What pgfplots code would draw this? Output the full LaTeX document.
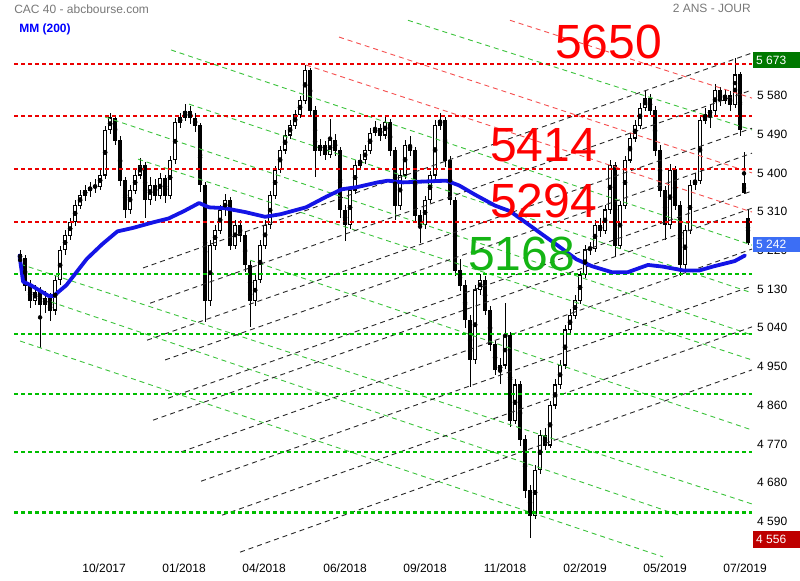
\documentclass[border=0pt]{standalone}
\usepackage{fontspec}
\setmainfont{Liberation Sans}
\usepackage{pgfplots}
\usepackage{pgfplotstable}
\pgfplotsset{compat=1.18}

\definecolor{hred}{RGB}{235,0,0}
\definecolor{hgreen}{RGB}{0,190,0}
\definecolor{dgreen}{RGB}{60,195,60}
\definecolor{dred}{RGB}{245,80,80}
\definecolor{dblack}{RGB}{40,40,40}
\definecolor{mablue}{RGB}{20,20,230}
\definecolor{titlegray}{RGB}{120,120,120}
\definecolor{boxgreen}{RGB}{0,120,0}
\definecolor{boxblue}{RGB}{60,110,245}
\definecolor{boxred}{RGB}{190,0,0}
\definecolor{bigred}{RGB}{255,0,0}
\definecolor{biggreen}{RGB}{20,180,20}

\pgfplotstableread{
x o h l c
20 5215 5225 5180 5207
25 5207 5215 5130 5144
30 5144 5155 5090 5109
35 5109 5145 5098 5128
40 5128 5140 4998 5098
45 5098 5130 5080 5114
50 5114 5125 5060 5086
55 5086 5165 5075 5156
60 5156 5235 5145 5226
65 5226 5272 5215 5260
70 5260 5300 5250 5291
75 5291 5342 5282 5330
80 5330 5365 5322 5353
85 5353 5378 5340 5365
90 5365 5385 5350 5372
95 5372 5390 5358 5374
100 5374 5412 5365 5400
105 5400 5515 5392 5505
110 5505 5545 5495 5533
115 5533 5540 5470 5481
120 5481 5490 5375 5388
125 5388 5395 5300 5319
130 5319 5378 5310 5365
135 5365 5412 5355 5400
140 5400 5440 5392 5423
145 5423 5430 5300 5342
150 5342 5395 5330 5377
155 5377 5392 5340 5353
160 5353 5405 5345 5393
165 5393 5400 5335 5353
170 5353 5445 5345 5435
175 5435 5532 5425 5523
180 5523 5545 5510 5533
185 5533 5565 5525 5547
190 5547 5560 5520 5533
195 5533 5545 5500 5516
200 5516 5522 5360 5377
205 5377 5385 5058 5109
210 5109 5250 5095 5237
215 5237 5285 5225 5272
220 5272 5330 5262 5319
225 5319 5355 5305 5342
230 5342 5348 5225 5237
235 5237 5295 5228 5284
240 5284 5295 5245 5260
245 5260 5270 5175 5191
250 5191 5200 5046 5109
255 5109 5170 5095 5156
260 5156 5248 5148 5237
265 5237 5295 5228 5284
270 5284 5362 5275 5353
275 5353 5422 5345 5412
280 5412 5468 5405 5458
285 5458 5505 5450 5493
290 5493 5528 5485 5516
295 5516 5552 5508 5540
300 5540 5585 5532 5574
305 5574 5657 5565 5644
310 5644 5650 5540 5551
315 5551 5560 5395 5458
320 5458 5485 5445 5470
325 5470 5480 5435 5447
330 5447 5530 5440 5481
335 5481 5495 5445 5458
340 5458 5465 5300 5319
345 5319 5330 5247 5284
350 5284 5375 5275 5365
355 5365 5435 5355 5423
360 5423 5450 5412 5435
365 5435 5470 5425 5458
370 5458 5510 5450 5498
375 5498 5525 5490 5509
380 5509 5520 5480 5493
385 5493 5535 5485 5523
390 5523 5530 5445 5458
395 5458 5465 5295 5330
400 5330 5412 5320 5400
405 5400 5482 5392 5470
410 5470 5490 5445 5458
415 5458 5465 5290 5307
420 5307 5318 5242 5284
425 5284 5352 5275 5342
430 5342 5410 5335 5400
435 5400 5528 5392 5516
440 5516 5544 5505 5528
445 5528 5535 5420 5435
450 5435 5445 5330 5342
455 5342 5350 5165 5179
460 5179 5205 5130 5144
465 5144 5155 5045 5063
470 5063 5075 4907 4970
475 4970 5145 4960 5133
480 5133 5170 5120 5156
485 5156 5165 5075 5086
490 5086 5095 4990 5005
495 5005 5015 4935 4947
500 4947 4975 4915 4958
505 4958 5102 4950 5028
510 5028 5035 4815 4830
515 4830 4925 4820 4912
520 4912 4920 4770 4784
525 4784 4795 4650 4667
530 4667 4680 4556 4609
535 4609 4725 4600 4714
540 4714 4808 4705 4795
545 4795 4812 4760 4772
550 4772 4875 4765 4865
555 4865 4925 4855 4912
560 4912 4970 4902 4958
565 4958 5052 4950 5040
570 5040 5088 5030 5074
575 5074 5120 5065 5109
580 5109 5178 5100 5168
585 5168 5238 5160 5226
590 5226 5245 5215 5230
595 5230 5295 5222 5284
600 5284 5300 5255 5270
605 5270 5330 5262 5319
610 5319 5435 5310 5423
615 5423 5430 5209 5237
620 5237 5340 5228 5330
625 5330 5445 5322 5435
630 5435 5498 5428 5486
635 5486 5528 5478 5516
640 5516 5568 5508 5556
645 5556 5597 5548 5579
650 5579 5588 5540 5551
655 5551 5560 5445 5458
660 5458 5470 5350 5365
665 5365 5375 5249 5284
670 5284 5425 5275 5412
675 5412 5420 5318 5330
680 5330 5340 5165 5191
685 5191 5285 5182 5272
690 5272 5388 5262 5377
695 5377 5405 5365 5388
700 5388 5540 5380 5528
705 5528 5555 5518 5540
710 5540 5565 5510 5551
715 5551 5612 5540 5598
720 5598 5605 5560 5574
725 5574 5600 5565 5586
730 5586 5595 5550 5563
735 5563 5673 5555 5633
740 5633 5640 5490 5505
744 5380 5453 5355 5360
748 5300 5319 5237 5242
}\candles

\begin{document}
\begin{tikzpicture}[x=1bp,y=1bp]
\begin{axis}[
  name=ax,
  width=752bp, height=558bp, scale only axis,
  xmin=0, xmax=752, ymin=4509.3, ymax=5807,
  axis line style={draw=none}, major tick length=0pt,
  xtick={104,184,264,345,425,505,585,665,745},
  xticklabels={10/2017,01/2018,04/2018,06/2018,09/2018,11/2018,02/2019,05/2019,07/2019},
  ytick={4590,4680,...,5580},
  yticklabels={4 590,4 680,4 770,4 860,4 950,5 040,5 130,5 220,5 310,5 400,5 490,5 580},
  yticklabel pos=right,
  yticklabel style={anchor=west, inner sep=0pt, xshift=5bp, yshift=2bp},
  xticklabel style={anchor=north, inner sep=0pt, yshift=-6bp},
  tick label style={font=\fontsize{12bp}{14bp}\selectfont, text=black},
]
% candles: wicks
\addplot[only marks, mark=none, error bars/.cd, y dir=both, y explicit, error mark=none,
  error bar style={black, line width=0.8bp}]
  table[x=x, y expr={(\thisrow{h}+\thisrow{l})/2}, y error expr={(\thisrow{h}-\thisrow{l})/2}] {\candles};
% candles: bodies
\addplot[only marks, mark=none, error bars/.cd, y dir=both, y explicit, error mark=none,
  error bar style={black, line width=3.2bp}]
  table[x=x, y expr={(\thisrow{o}+\thisrow{c})/2}, y error expr={abs(\thisrow{c}-\thisrow{o})/2+1}] {\candles};
% hollow up candles
\addplot[only marks, mark=none, restrict expr to domain={\thisrow{c}-\thisrow{o}}{5:100000},
  error bars/.cd, y dir=both, y explicit, error mark=none,
  error bar style={white, line width=1.5bp}]
  table[x=x, y expr={(\thisrow{o}+\thisrow{c})/2}, y error expr={(\thisrow{c}-\thisrow{o})/2-1.5}] {\candles};

% diagonal green
\pgfplotsset{dg/.style={dgreen, line width=0.9bp, dash pattern=on 5bp off 4bp}}
\addplot[dg] coordinates {(408,5760) (752,5505)};
\addplot[dg] coordinates {(171,5691) (752,5237)};
\addplot[dg] coordinates {(189,5565) (752,5126)};
\addplot[dg] coordinates {(105,5535) (752,5028)};
\addplot[dg] coordinates {(138,5437) (752,4970)};
\addplot[dg] coordinates {(20,5193) (752,4635)};
\addplot[dg] coordinates {(20,5014) (663,4512)};
\addplot[dg] coordinates {(51,5105) (679,4609)};
\addplot[dg] coordinates {(250,5202) (752,4807)};
% diagonal black
\pgfplotsset{db/.style={dblack, line width=0.9bp, dash pattern=on 5bp off 4bp}}
\addplot[db] coordinates {(143,5184) (752,5684)};
\addplot[db] coordinates {(150,5102) (752,5598)};
\addplot[db] coordinates {(147,5016) (752,5509)};
\addplot[db] coordinates {(165,4970) (752,5451)};
\addplot[db] coordinates {(168,4881) (752,5363)};
\addplot[db] coordinates {(153,4830) (752,5323)};
\addplot[db] coordinates {(181,4756) (752,5228)};
\addplot[db] coordinates {(201,4688) (752,5142)};
\addplot[db] coordinates {(222,4609) (752,5047)};
\addplot[db] coordinates {(240,4523) (752,4947)};
% diagonal red
\pgfplotsset{dr/.style={dred, line width=0.9bp, dash pattern=on 5bp off 4bp}}
\addplot[dr] coordinates {(510,5760) (752,5579)};
\addplot[dr] coordinates {(339,5721) (752,5405)};
\addplot[dr] coordinates {(306,5656) (752,5314)};

% horizontal levels
\pgfplotsset{hr/.style={hred, line width=2.2bp, dash pattern=on 4bp off 3bp}}
\pgfplotsset{hg/.style={hgreen, line width=2.2bp, dash pattern=on 4bp off 3bp}}
\addplot[hr] coordinates {(14,5658) (752,5658)};
\addplot[hr] coordinates {(14,5538) (752,5538)};
\addplot[hr] coordinates {(14,5414) (752,5414)};
\addplot[hr] coordinates {(14,5291) (752,5291)};
\addplot[hg] coordinates {(14,5169) (752,5169)};
\addplot[hg] coordinates {(14,5031) (752,5031)};
\addplot[hg] coordinates {(14,4890) (752,4890)};
\addplot[hg] coordinates {(14,4755) (752,4755)};
\addplot[hg] coordinates {(14,4615) (752,4615)};

% moving average 200
\addplot[mablue, line width=3.8bp, line join=round, line cap=round] coordinates {
(19.4,5213) (23,5152) (30.6,5144) (48.5,5119) (53.6,5119) (66.3,5144) (86.7,5205)
(102,5239) (117.3,5269) (132.7,5277) (153,5290) (168.4,5299) (183.7,5316) (199,5335)
(209,5325) (224.5,5323) (245,5314) (265,5303) (280.6,5309) (306,5325) (326.5,5350)
(341.8,5367) (357,5372) (377.6,5383) (387.8,5387) (403,5383) (423.5,5385) (446.4,5387)
(459,5376) (474.5,5355) (495,5329) (510,5316) (525.5,5290) (541,5264) (556,5239)
(576.5,5204) (592,5188) (612,5174) (627.6,5174) (648,5191) (663,5187) (683.7,5178)
(699,5178) (714,5188) (734.7,5200) (745,5213)};
\end{axis}

\begin{scope}[shift={(ax.north west)}]
% texts
\node[anchor=west, inner sep=0pt, text=titlegray, font=\fontsize{12bp}{14bp}\selectfont] at (14,-9) {CAC 40 - abcbourse.com};
\node[anchor=west, inner sep=0pt, text=blue, font=\fontsize{12bp}{14bp}\selectfont\bfseries] at (19,-29) {MM (200)};
\node[anchor=east, inner sep=0pt, text=titlegray, font=\fontsize{12bp}{14bp}\selectfont] at (751,-8) {2 ANS - JOUR};

\node[anchor=west, inner sep=0pt, text=bigred, font=\fontsize{48bp}{50bp}\selectfont] at (555,-41.7) {5650};
\node[anchor=west, inner sep=0pt, text=bigred, font=\fontsize{48bp}{50bp}\selectfont] at (490,-145) {5414};
\node[anchor=west, inner sep=0pt, text=bigred, font=\fontsize{48bp}{50bp}\selectfont] at (490,-201) {5294};
\node[anchor=west, inner sep=0pt, text=biggreen, font=\fontsize{48bp}{50bp}\selectfont] at (468,-253.7) {5168};

% value boxes
\fill[boxgreen] (753,-68.3) rectangle (800,-51.7);
\node[anchor=west, inner sep=0pt, text=white, font=\fontsize{12bp}{14bp}\selectfont] at (756,-60) {5 673};
\fill[boxblue] (753,-251.7) rectangle (800,-236.7);
\node[anchor=west, inner sep=0pt, text=white, font=\fontsize{12bp}{14bp}\selectfont] at (756,-244.2) {5 242};
\fill[boxred] (753,-548.3) rectangle (800,-530.7);
\node[anchor=west, inner sep=0pt, text=white, font=\fontsize{12bp}{14bp}\selectfont] at (756,-539.5) {4 556};

\path (0,-580) rectangle (800,0);
\end{scope}
\end{tikzpicture}
\end{document}
